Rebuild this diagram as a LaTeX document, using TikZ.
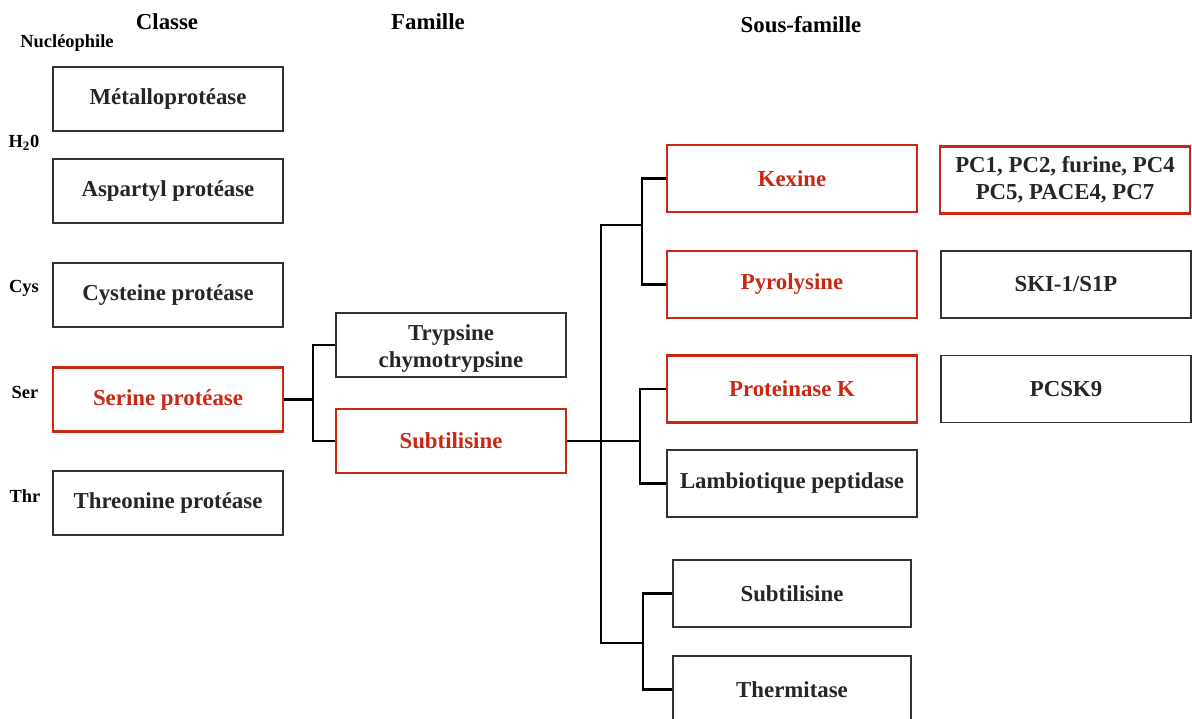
\documentclass[tikz,border=0pt]{standalone}
\usepackage{fontspec}
\setmainfont{Liberation Serif}
\usetikzlibrary{positioning, calc}
\definecolor{protred}{RGB}{200,40,20}
\definecolor{boxtext}{RGB}{38,38,38}

\begin{document}
\begin{tikzpicture}[
  x=0.02cm, y=-0.02cm,
  box/.style={rectangle, draw=black!80, fill=white, line width=0.7pt,
              minimum width=4.6cm, minimum height=1.28cm, inner sep=2pt,
              align=center, text=boxtext,
              font=\fontsize{13}{15.5}\selectfont\bfseries},
  redbox/.style={box, draw=protred, line width=1.3pt, text=protred},
  redframe/.style={box, draw=protred, line width=1.3pt},
  wide/.style={minimum width=5cm, minimum height=1.34cm},
  mid/.style={minimum width=4.76cm, minimum height=1.34cm},
  head/.style={font=\fontsize{13}{15}\selectfont\bfseries},
  nucl/.style={font=\fontsize{10.5}{12}\selectfont\bfseries},
  link/.style={line width=1.2pt, draw=black}
]
\useasboundingbox (0,0) rectangle (1192,719);

% ==================== HEADERS ====================
\node[head] (hclasse) at (167,22) {Classe};
\node[head] (hfam) at (428,22) {Famille};
\node[head] (hsous) at (801,25) {Sous-famille};

\node[nucl] (nuc) at (67,43) {Nucléophile};
\node[nucl] (nh2o) at (24,143) {H\textsubscript{2}0};
\node[nucl] (ncys) at (24,288) {Cys};
\node[nucl] (nser) at (25,392) {Ser};
\node[nucl] (nthr) at (25,496) {Thr};

% ==================== CLASSE ====================
\node[box] (metal) at (168,99) {Métalloprotéase};
\node[box] (asp) at (168,191) {Aspartyl protéase};
\node[box] (cys) at (168,295) {Cysteine protéase};
\node[redbox] (ser) at (168,399.5) {Serine protéase};
\node[box] (thr) at (168,503) {Threonine protéase};

% ==================== FAMILLE ====================
\node[box] (tryp) at (451,345) {\rule{0pt}{13pt}Trypsine\\chymotrypsine};
\node[redbox] (sub) at (451,441) {Subtilisine};

% ==================== SOUS-FAMILLE ====================
\node[redbox, wide] (kex) at (792,178.5) {Kexine};
\node[redbox, wide] (pyr) at (792,284.5) {Pyrolysine};
\node[redbox, wide] (prk) at (792,389) {Proteinase K};
\node[box, wide] (lamb) at (792,483.5) {Lambiotique peptidase};
\node[box, mid] (sub2) at (792,593.5) {Subtilisine};
\node[box, mid] (therm) at (792,689.5) {Thermitase};

% ==================== MEMBRES ====================
\node[redframe, wide] (pcs) at (1065,180) {PC1, PC2, furine, PC4\\PC5, PACE4, PC7};
\node[box, wide] (ski) at (1066,284.5) {SKI-1/S1P};
\node[box, wide] (pcsk) at (1066,389) {PCSK9};

% ==================== LIENS ====================
\coordinate (jser) at (313,399.5);
\path (sub.east) -- ++(34,0) coordinate (jsub) -- ++(39,0) coordinate (jmid);
\coordinate (jtop) at (642,225);
\coordinate (jbot) at (643,643);

\draw[link] (ser.east) -- (jser);
\draw[link] (tryp.west) -| (jser) |- (sub.west);

\draw[link] (sub.east) -- (jmid);
\draw[link] (prk.west) -| (jmid) |- (lamb.west);
\draw[link] (kex.west) -| (jtop) |- (pyr.west);
\draw[link] (sub2.west) -| (jbot) |- (therm.west);
\draw[link] (jtop) -- (jtop -| jsub) -- (jbot -| jsub) -- (jbot);

\end{tikzpicture}
\end{document}
